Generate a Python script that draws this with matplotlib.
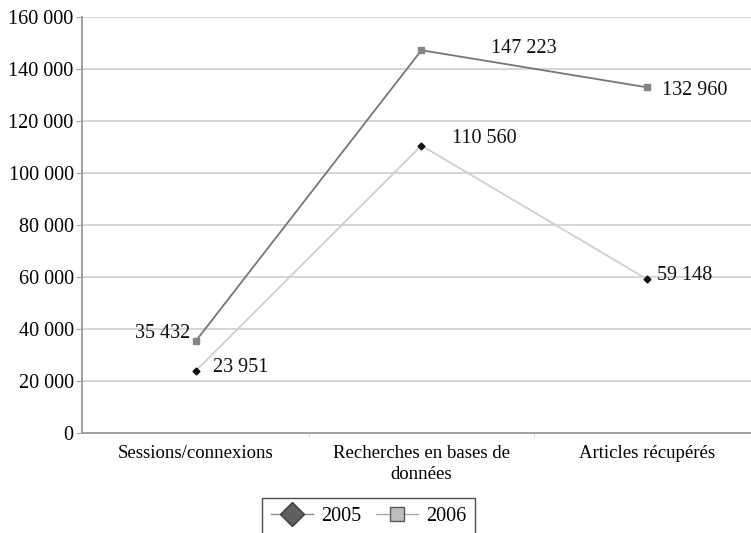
import matplotlib
matplotlib.use('Agg')
import matplotlib.pyplot as plt
from matplotlib.lines import Line2D
from matplotlib.ticker import FuncFormatter, FixedLocator

plt.rcParams['font.family'] = ['Liberation Serif', 'DejaVu Serif']

# Data
categories = ['Sessions/connexions', 'Recherches en bases de\ndonnées', 'Articles récupérés']
values_2005 = [23951, 110560, 59148]
values_2006 = [35432, 147223, 132960]
series_names = ['2005', '2006']

# label offsets in points (dx, dy, ha)
offsets_2005 = [(12, 2, 'left'), (22, 5, 'left'), (7, 3, 'left')]
offsets_2006 = [(-4, 5, 'right'), (50, 1, 'left'), (11, -2, 'left')]

W, H = 751, 533
FS = 14.5
fig = plt.figure(figsize=(W / 100, H / 100), dpi=100, facecolor='white')
ax = fig.add_axes([82 / W, (H - 433) / H, (W - 82) / W, (433 - 17) / H])

x = list(range(len(categories)))
ax.plot(x, values_2005, color='#cfcfcf', linewidth=1.3, marker='D', markersize=3.5,
        markerfacecolor='#111111', markeredgecolor='#111111', zorder=3)
ax.plot(x, values_2006, color='#767676', linewidth=1.3, marker='s', markersize=4.5,
        markerfacecolor='#858585', markeredgecolor='#858585', zorder=3)


def fmt(v):
    return f'{v:,}'.replace(',', ' ')


for xi, v, (dx, dy, ha) in zip(x, values_2005, offsets_2005):
    ax.annotate(fmt(v), (xi, v), xytext=(dx, dy), textcoords='offset points',
                ha=ha, va='center', fontsize=FS, color='#111111')
for xi, v, (dx, dy, ha) in zip(x, values_2006, offsets_2006):
    ax.annotate(fmt(v), (xi, v), xytext=(dx, dy), textcoords='offset points',
                ha=ha, va='center', fontsize=FS, color='#111111')

ax.set_xlim(-0.505, (W - 196) / 225.5)
ax.set_ylim(0, 160000)
ax.set_yticks(range(0, 160001, 20000))
ax.yaxis.set_major_formatter(FuncFormatter(lambda v, p: fmt(int(v))))
ax.set_xticks(x)
ax.set_xticklabels(categories, fontsize=13.5, linespacing=1.3)
ax.xaxis.set_minor_locator(FixedLocator([0.5, 1.5]))
ax.tick_params(axis='x', which='major', length=0, pad=9)
ax.tick_params(axis='x', which='minor', length=3, color='#d0d0d0', direction='out')
ax.tick_params(axis='y', length=4, color='#a0a0a0', labelsize=FS, pad=2)

ax.grid(axis='y', color='#d6d6d6', linewidth=1.4)
ax.set_axisbelow(True)
for side in ['top', 'right']:
    ax.spines[side].set_visible(False)
ax.spines['left'].set_color('#a0a0a0')
ax.spines['left'].set_linewidth(1.4)
ax.spines['bottom'].set_color('#a0a0a0')
ax.spines['bottom'].set_linewidth(1.4)

handles = [
    Line2D([], [], color='#8a8a8a', linewidth=1, marker='D', markersize=12,
           markerfacecolor='#5f5f5f', markeredgecolor='#3a3a3a'),
    Line2D([], [], color='#aaaaaa', linewidth=1, marker='s', markersize=9.5,
           markerfacecolor='#bdbdbd', markeredgecolor='#5a5a5a'),
]
leg = fig.legend(handles, series_names, loc='upper left',
                 bbox_to_anchor=(262 / W, 1 - 498 / H), ncol=2, fontsize=FS,
                 frameon=True, fancybox=False, edgecolor='#222222',
                 handlelength=2.1, columnspacing=0.7, handletextpad=0.4,
                 borderpad=0.45, borderaxespad=0)
leg.get_frame().set_linewidth(1.0)

fig.savefig('out.png', dpi=100, facecolor='white')
